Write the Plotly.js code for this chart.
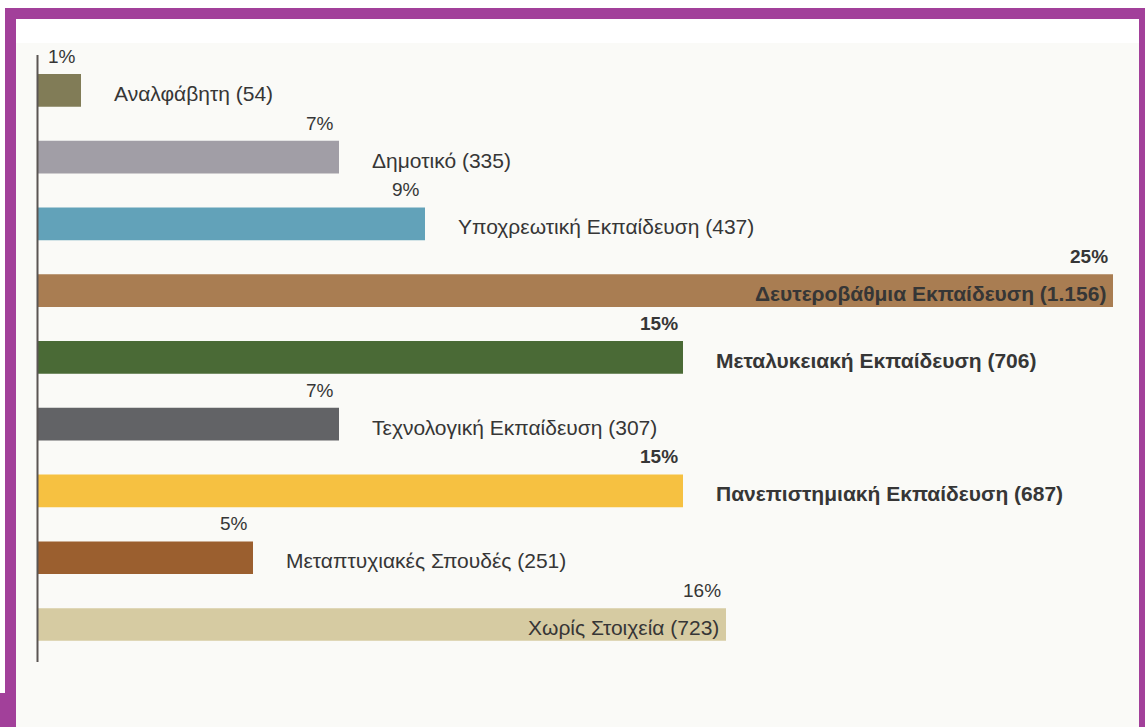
<!DOCTYPE html>
<html>
<head>
<meta charset="utf-8">
<script src="https://cdn.plot.ly/plotly-3.0.1.min.js"></script>
<style>
  html, body { margin: 0; padding: 0; background: #ffffff; }
  #chart { width: 1145px; height: 727px; }
</style>
</head>
<body>
<div id="chart"></div>
<script>
// ---- data ----
const categories = [
  "Αναλφάβητη",
  "Δημοτικό",
  "Υποχρεωτική Εκπαίδευση",
  "Δευτεροβάθμια Εκπαίδευση",
  "Μεταλυκειακή Εκπαίδευση",
  "Τεχνολογική Εκπαίδευση",
  "Πανεπιστημιακή Εκπαίδευση",
  "Μεταπτυχιακές Σπουδές",
  "Χωρίς Στοιχεία"
];
const counts = ["54", "335", "437", "1.156", "706", "307", "687", "251", "723"];
const percents = [1, 7, 9, 25, 15, 7, 15, 5, 16];

// ---- styling ----
const barColors = ["#817c57", "#a19ea6", "#62a2b9", "#a97d52", "#4a6a36",
                   "#626366", "#f6c141", "#9b5f2f", "#d6cba2"];
const boldCats = new Set(["Δευτεροβάθμια Εκπαίδευση", "Μεταλυκειακή Εκπαίδευση", "Πανεπιστημιακή Εκπαίδευση"]);
const insideCats = new Set(["Δευτεροβάθμια Εκπαίδευση", "Χωρίς Στοιχεία"]);

const W = 1145, H = 727;
const M = {l: 38, r: 27, t: 57, b: 56};
const pw = W - M.l - M.r, ph = H - M.t - M.b;
const px = x => (x - M.l) / pw;
const py = y => 1 - (y - M.t) / ph;

const FONT = "Liberation Sans, Arial, sans-serif";
const TXT = "#363636";

const annotations = [];
categories.forEach((c, i) => {
  const bold = boldCats.has(c);
  const pctText = bold ? "<b>" + percents[i] + "%</b>" : percents[i] + "%";
  annotations.push({
    x: percents[i], y: c, xref: "x", yref: "y",
    text: pctText, showarrow: false,
    xanchor: "right", yanchor: "middle",
    xshift: -3, yshift: 34,
    font: {family: FONT, size: 19, color: TXT}
  });
  const lab = c + " (" + counts[i] + ")";
  const inside = insideCats.has(c);
  annotations.push({
    x: percents[i], y: c, xref: "x", yref: "y",
    text: bold ? "<b>" + lab + "</b>" : lab, showarrow: false,
    xanchor: inside ? "right" : "left", yanchor: "middle",
    xshift: inside ? -5 : 31, yshift: -3,
    font: {family: FONT, size: 21, color: TXT}
  });
});

const PURPLE = "#a2409a";
const shapes = [
  // off-white background area
  {type: "rect", xref: "paper", yref: "paper", layer: "below",
   x0: px(16), x1: px(1139), y0: py(43), y1: py(727),
   fillcolor: "#fafaf7", line: {width: 0}},
  // purple frame
  {type: "rect", xref: "paper", yref: "paper", layer: "above",
   x0: px(5), x1: px(1145), y0: py(19), y1: py(8),
   fillcolor: PURPLE, line: {width: 0}},
  {type: "rect", xref: "paper", yref: "paper", layer: "above",
   x0: px(5), x1: px(16), y0: py(693), y1: py(8),
   fillcolor: PURPLE, line: {width: 0}},
  {type: "rect", xref: "paper", yref: "paper", layer: "above",
   x0: px(0), x1: px(16), y0: py(727), y1: py(693),
   fillcolor: PURPLE, line: {width: 0}},
  {type: "rect", xref: "paper", yref: "paper", layer: "above",
   x0: px(1139), x1: px(1145), y0: py(727), y1: py(8),
   fillcolor: PURPLE, line: {width: 0}},
  // vertical axis line
  {type: "line", xref: "paper", yref: "paper", layer: "above",
   x0: px(37.5), x1: px(37.5), y0: py(55), y1: py(662),
   line: {color: "#5a5553", width: 2}}
];

const trace = {
  type: "bar",
  orientation: "h",
  y: categories,
  x: percents,
  width: 0.49,
  marker: {color: barColors, line: {width: 0}},
  hoverinfo: "skip"
};

const layout = {
  width: W, height: H,
  margin: M,
  paper_bgcolor: "#ffffff",
  plot_bgcolor: "rgba(0,0,0,0)",
  showlegend: false,
  xaxis: {range: [0, pw / 43], visible: false, fixedrange: true},
  yaxis: {autorange: "reversed", showticklabels: false, showgrid: false,
          zeroline: false, showline: false, ticks: "", fixedrange: true},
  annotations: annotations,
  shapes: shapes
};

Plotly.newPlot("chart", [trace], layout, {displayModeBar: false, staticPlot: true});
</script>
</body>
</html>
